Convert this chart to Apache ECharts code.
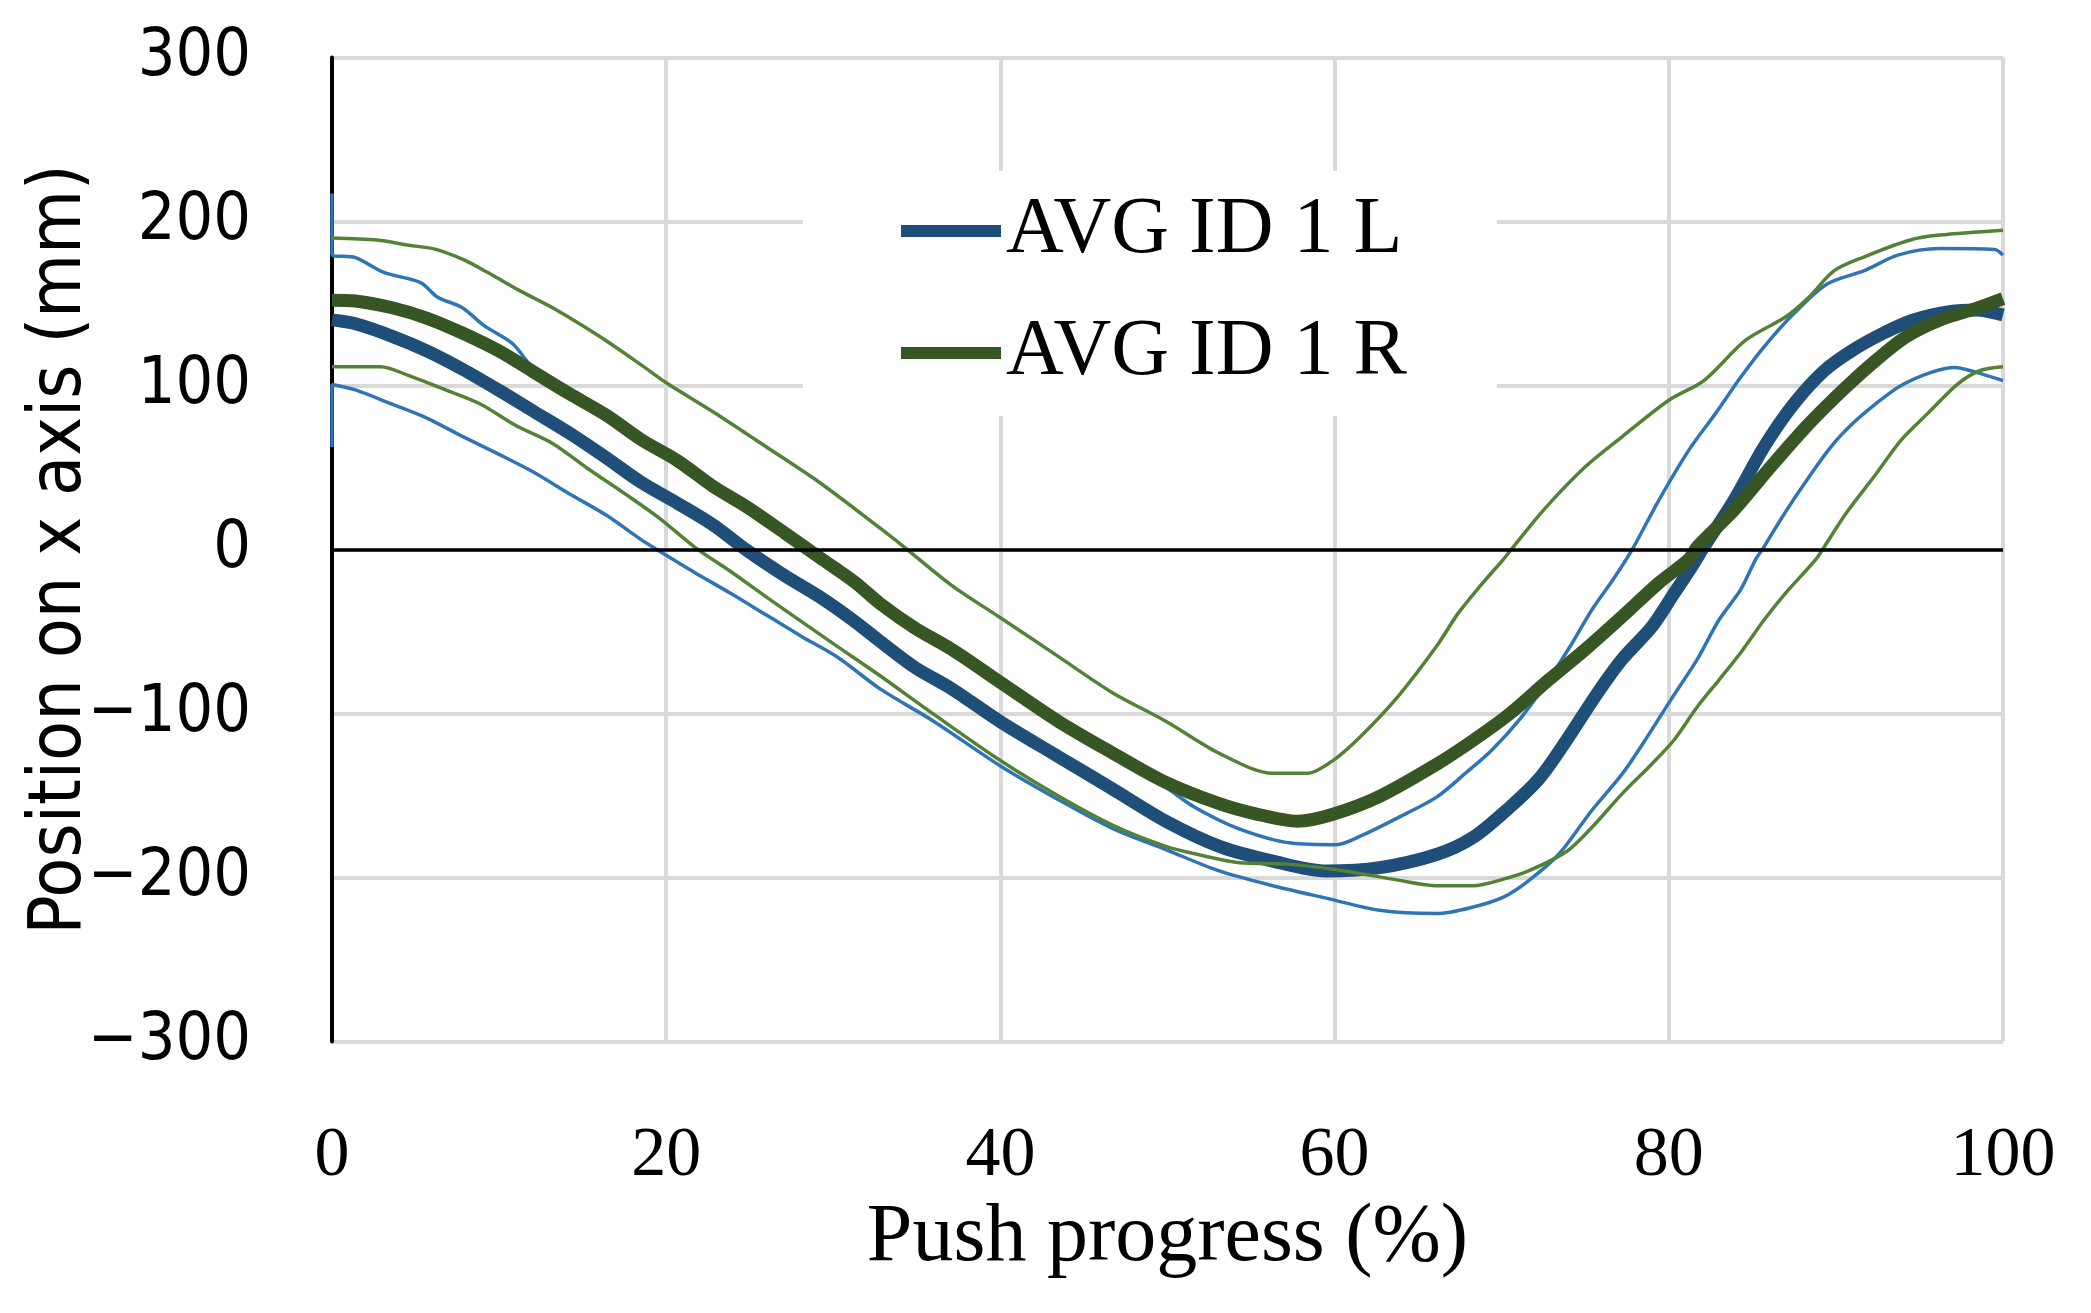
<!DOCTYPE html>
<html>
<head>
<meta charset="utf-8">
<script src="https://cdn.jsdelivr.net/npm/echarts@6/dist/echarts.min.js"></script>
<style>
html,body{margin:0;padding:0;background:#fff;}
#chart{width:2091px;height:1313px;}
</style>
</head>
<body>
<div id="chart"></div>
<script>
// Series data: [push progress (%), position on x axis (mm)]
const avgL = [[0,140],[1.4,137.6],[3.6,130],[5.7,121],[7.8,110],[10,97],[12.1,84],[14.2,71],[16.4,56],[18.5,41],[20.7,28],[22.8,15],[24.9,-1],[27.1,-16],[29.2,-29],[31.3,-44],[32.8,-56],[34.9,-72],[37.1,-85],[40,-105],[43.5,-126.5],[46.7,-146],[49.9,-165.7],[53.1,-181],[56.3,-190],[59.5,-196],[62.7,-194],[66.1,-186],[68.3,-175.5],[70.5,-157],[72.3,-139],[73.9,-116],[75.7,-88],[77.2,-67],[79,-47],[80.3,-27],[81.4,-10],[82.1,1.6],[83.9,30],[85.7,62.6],[87.5,89],[89.3,109],[91,121.5],[92.8,131.7],[94.6,139.8],[96.8,145],[98.4,146],[100,143]];
const avgR = [[0,152],[1.4,151.5],[3.6,147.4],[5.7,141],[7.8,132],[10,121],[12.1,108],[14.2,95],[16.4,82],[18.5,67],[20.7,54],[22.8,38.5],[24.9,25.5],[27.1,10],[29.2,-5],[31.3,-20],[32.8,-33],[34.9,-48],[37.1,-61],[40,-81],[43.5,-105],[46.7,-124],[49.9,-142],[53.1,-155],[55.2,-161],[57.8,-165.7],[59.9,-161.4],[62.7,-150.5],[66.1,-131],[68.3,-116.3],[70.5,-100],[72.8,-79.6],[75,-61],[77.2,-41],[79.4,-20.4],[81.2,-6],[81.7,1.6],[83.9,24],[86.1,50.4],[88.4,76.8],[90.6,99],[92.4,115.4],[94.2,129.7],[96.2,139.8],[98.4,147],[100,153]];
const lUpper = [[0,217],[0,180],[1.4,178],[3.1,169],[5.3,162.7],[6.3,154],[7.8,147.4],[9.1,136.5],[10.8,125.6],[12.1,110],[14.2,97],[16.4,83],[18.5,68],[20.7,55],[22.8,40],[24.9,27],[27.1,11],[29.2,-4],[31.3,-19],[32.8,-32],[34.9,-47],[37.1,-60],[40,-80],[43.5,-104],[46.7,-125],[49.9,-145],[51.6,-157],[54.2,-170],[57.4,-179],[60.1,-180],[61.6,-174.5],[63.8,-163.5],[66.1,-151],[67.8,-136.7],[69.4,-122.4],[71.2,-102],[72.8,-79.6],[74.1,-59],[75.4,-36.7],[76.8,-16.3],[77.9,1.6],[79.4,30],[81.2,60.6],[82.8,83],[84.3,105],[85.7,123.6],[87.5,144],[89.5,162],[91.7,170],[93.7,179.5],[96.2,183.5],[99.5,183],[100,179.5]];
const lLower = [[0,62.5],[0,100.6],[1.4,97.3],[3.6,88.6],[5.7,80],[7.8,69],[10,58],[12.1,47],[14.2,34],[16.4,21],[18.5,6],[19.6,-1],[21.7,-14],[23.9,-27],[26,-40],[28.1,-53],[30.3,-66],[32.8,-85],[36,-104.7],[40,-132],[43.5,-152.7],[46.7,-170],[49.9,-183],[53.1,-196],[56.3,-205],[59.5,-212.6],[62.7,-220],[66.1,-222],[68.3,-218],[70.1,-212],[71.6,-202],[73.4,-186],[75.4,-159],[77.2,-137],[78.6,-116],[80.1,-92],[81.7,-67],[83,-43],[84.3,-24.5],[85.2,-6],[85.7,1.6],[86.8,20],[88.1,40],[89.7,62.6],[91,76.8],[92.4,89],[93.9,100],[95.7,108],[97.1,111],[98.4,108],[100,103]];
const rUpper = [[0,190],[2.7,188.7],[4.6,185.5],[6.1,183.3],[7.8,177],[9.3,169],[11.2,158],[13.2,147.4],[16,130],[18.5,112.6],[20,101.7],[22.8,84],[26,62.5],[29.2,40.7],[32.8,13],[34.3,1],[37.1,-22],[40,-41.6],[43.5,-65.5],[46.7,-87.3],[49.9,-104.7],[53.1,-124.3],[56.3,-136.4],[58.4,-136.4],[59.9,-128.7],[61.6,-113.5],[63.8,-89.5],[66.1,-59],[67.4,-38.8],[68.7,-22.4],[70.1,-6],[70.7,1.6],[72.5,24],[75,50.4],[77.2,68.7],[80,91],[82.1,103],[84.6,127.6],[87,141.9],[88.4,154],[89.9,170],[91.7,178.5],[94.4,188.6],[96.2,191.7],[100,194.7]];
const rLower = [[0,111.5],[2.9,111.5],[4.6,106],[6.8,97.3],[8.9,88.6],[11,75.6],[13.2,64.7],[15.3,49.4],[17.5,34.2],[19.6,19],[21.7,1.5],[23.9,-13.7],[26,-29],[28.1,-44],[30.3,-59.5],[32.8,-77],[36,-100.4],[40,-128.7],[43.5,-150.5],[46.7,-168],[49.9,-181],[52,-186.4],[54.2,-190.8],[57.4,-192],[60.6,-196],[63.8,-201.6],[66.1,-205],[68.3,-205],[70.1,-201],[71.6,-196],[73.9,-184],[75.4,-169.4],[77.2,-149],[79,-130.6],[80.3,-116.3],[81.7,-96],[83,-79.6],[84.3,-63],[85.7,-43],[87,-26.5],[88.8,-6],[89.3,1.6],[90.6,22],[92.4,46],[93.9,66.7],[95.5,83],[97.3,101],[98.6,109],[100,111.4]];

const legendNames = ['AVG ID 1 L', 'AVG ID 1 R'];
const xTitle = 'Push progress (%)';
const yTitle = 'Position on x axis (mm)';

const SANS = "'DejaVu Sans Condensed', 'DejaVu Sans', sans-serif";
const SERIF = "'Liberation Serif', 'DejaVu Serif', serif";
const GRID = '#D9D9D9';

const chart = echarts.init(document.getElementById('chart'), null, {renderer: 'canvas'});

function thin(name, data, color) {
  return {name: name, type: 'line', data: data, showSymbol: false, symbol: 'none',
    smooth: 0.3, lineStyle: {color: color, width: 3.5}, itemStyle: {color: color}, silent: true};
}
function thick(name, data, color) {
  return {name: name, type: 'line', data: data, showSymbol: false, symbol: 'none',
    smooth: 0.3, lineStyle: {color: color, width: 13}, itemStyle: {color: color}, silent: true};
}

chart.setOption({
  animation: false,
  backgroundColor: '#fff',
  grid: {left: 332, right: 88, top: 57.5, bottom: 271.5, containLabel: false, outerBoundsMode: 'none'},
  legend: {
    data: legendNames,
    orient: 'vertical',
    left: 803, top: 171,
    icon: 'rect',
    itemWidth: 100, itemHeight: 12,
    itemGap: 42,
    padding: [20, 90, 23, 98],
    backgroundColor: '#fff',
    textStyle: {fontFamily: SERIF, fontSize: 80, color: '#000', lineHeight: 80},
    selectedMode: false
  },
  xAxis: {
    type: 'value', min: 0, max: 100, interval: 20,
    name: xTitle, nameLocation: 'middle', nameGap: 156, nameMoveOverlap: false,
    nameTextStyle: {fontFamily: SERIF, fontSize: 82, color: '#000'},
    axisLine: {show: false, onZero: false},
    axisTick: {show: false},
    axisLabel: {fontFamily: SERIF, fontSize: 70, color: '#000', margin: 80},
    splitLine: {show: true, lineStyle: {color: GRID, width: 4}}
  },
  yAxis: {
    type: 'value', min: -300, max: 300, interval: 100,
    name: yTitle, nameLocation: 'middle', nameGap: 234, nameRotate: 90, nameMoveOverlap: false,
    nameTextStyle: {fontFamily: SANS, fontSize: 73, color: '#000'},
    axisLine: {show: true, onZero: false, lineStyle: {color: '#000', width: 4}},
    axisTick: {show: false},
    axisLabel: {fontFamily: SANS, fontSize: 66, color: '#000', margin: 81,
      formatter: function (v) { return v < 0 ? '\u2212' + Math.abs(v) : String(v); }},
    splitLine: {show: true, lineStyle: {color: GRID, width: 4}}
  },
  series: [
    {name: 'zero', type: 'line', data: [], silent: true, z: 1,
      markLine: {silent: true, symbol: 'none', label: {show: false},
        lineStyle: {color: '#000', width: 3.5, type: 'solid'},
        data: [{yAxis: 0}]}},
    thick('AVG ID 1 L', avgL, '#1F4E79'),
    thin('L upper', lUpper, '#2E75B6'),
    thin('L lower', lLower, '#2E75B6'),
    thick('AVG ID 1 R', avgR, '#375623'),
    thin('R upper', rUpper, '#548235'),
    thin('R lower', rLower, '#548235')
  ]
});
</script>
</body>
</html>
